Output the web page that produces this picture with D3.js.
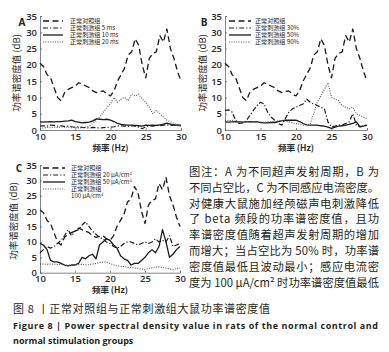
<!DOCTYPE html>
<html><head><meta charset="utf-8">
<script src="https://cdn.jsdelivr.net/npm/d3@7/dist/d3.min.js"></script>
<style>
html,body{margin:0;padding:0;background:#fff;}
svg{display:block;}
</style></head>
<body><svg id="c" width="389" height="352"></svg>
<script>
const freqs = [10,10.5,11,11.5,12,12.5,13,13.5,14,14.5,15,15.5,16,16.5,17,17.5,18,18.5,19,19.5,20,20.5,21,21.5,22,22.5,23,23.5,24,24.5,25,25.5,26,26.5,27,27.5,28,28.5,29,29.5,30];
const xTicks = [10,15,20,25,30];
const yTicks = [0,5,10,15,20,25,30,35];

const control = [20.5,19.5,17,16,13,10,9,11.5,12.5,13,13.5,14.5,14,13.5,13,12,11.5,11.8,12,11,10.5,12,15,17,19,23,24,28,26,20,16,22,23.5,24,29,27,31,25,22,18,15];

const a5ms  = [1.2,1.3,1.2,1.5,1.4,1.2,1.3,1.1,1.2,1.0,0.9,1.0,0.8,0.7,0.6,0.8,0.7,0.6,0.7,0.8,0.9,1.0,1.2,1.3,1.2,1.1,1.3,1.2,0.9,0.4,1.0,1.3,1.2,1.4,1.3,1.5,1.6,1.4,1.6,1.3,1.2];
const a10ms = [2.5,2.4,2.5,2.6,2.5,2.6,2.6,2.7,2.8,3.0,2.6,2.4,2.2,2.3,2.4,2.8,3.4,3.3,3.2,3.3,3.0,2.6,2.0,1.7,1.6,1.5,1.5,1.4,1.3,1.2,1.5,1.4,1.5,1.4,1.6,1.8,2.1,1.8,1.5,1.6,1.5];
const a20ms = [0.5,0.6,0.8,0.7,0.9,0.8,1.0,0.8,0.9,0.7,0.8,0.6,0.7,0.9,1.2,2.0,3.0,4.0,5.5,7.0,8.0,10.0,8.5,9.5,10.0,9.0,11.0,10.5,11.0,9.5,8.5,7.0,5.0,6.0,5.0,4.0,3.0,2.5,2.0,1.5,1.2];

const b30 = [6.0,6.2,5.5,3.0,2.0,2.2,2.8,4.5,6.0,7.5,8.5,8.0,5.5,4.0,3.0,2.0,1.5,3.5,5.5,6.5,7.0,7.5,8.0,9.5,8.5,8.0,7.5,7.0,6.5,2.5,1.0,1.2,1.5,1.5,2.0,2.5,5.0,1.5,1.0,1.2,1.5];
const b50 = [2.5,2.4,2.5,2.6,2.5,2.4,2.5,2.6,2.5,2.6,2.3,2.2,2.2,2.3,2.3,2.6,2.8,3.0,3.0,3.0,3.0,2.6,2.0,1.6,1.5,1.5,1.5,1.3,1.2,0.9,0.5,0.9,1.2,1.3,1.5,1.7,2.0,2.5,1.0,1.2,1.5];
const b90 = [3.0,2.8,3.0,2.6,2.5,2.4,2.6,2.5,2.4,2.5,2.3,2.4,2.5,2.5,2.6,2.8,3.0,2.7,2.5,2.2,2.0,1.8,1.5,1.6,2.0,5.0,8.5,10.5,12.5,14.5,10.0,9.5,9.0,7.5,7.0,6.5,7.0,5.0,4.5,4.0,3.5];

const c20  = [6.5,7.5,8.5,8.0,8.5,9.5,10.5,12.0,14.0,12.0,13.5,14.0,15.5,16.5,15.0,13.5,12.5,11.5,11.0,10.0,9.5,8.5,8.0,8.5,9.5,10.0,10.0,9.5,9.0,9.5,10.0,9.5,10.0,11.0,10.0,10.5,10.0,12.0,8.5,9.0,9.5];
const c50  = [9.5,9.0,7.5,4.0,3.5,3.5,3.0,2.5,2.2,2.5,2.5,3.0,5.0,4.5,5.5,6.0,4.5,9.0,10.0,11.0,10.5,9.0,8.0,5.5,4.5,4.0,2.5,3.0,3.0,4.0,5.0,6.5,7.5,6.5,8.5,14.0,10.0,5.0,6.0,7.5,8.5];
const c100 = [2.8,2.8,2.7,2.8,2.8,2.7,2.6,2.5,2.4,2.5,2.5,2.6,2.7,2.6,2.6,2.8,3.0,3.3,3.5,3.4,3.0,2.6,2.3,2.1,2.0,1.8,1.7,1.5,1.4,1.2,1.0,1.4,1.6,1.8,1.9,1.7,1.5,1.2,1.0,1.4,1.5];

const legendA = ["正常对照组","正常刺激组 5 ms","正常刺激组 10 ms","正常刺激组 20 ms"];
const legendB = ["正常对照组","正常刺激组 30%","正常刺激组 50%","正常刺激组 90%"];
const legendC = ["正常对照组","正常刺激组 20 μA/cm²","正常刺激组 50 μA/cm²","正常刺激组","100 μA/cm²"];

const noteLines = [
 "图注：A 为不同超声发射周期，B 为",
 "不同占空比，C 为不同感应电流密度。",
 "对健康大鼠施加经颅磁声电刺激降低",
 "了 beta 频段的功率谱密度值，且功",
 "率谱密度值随着超声发射周期的增加",
 "而增大；当占空比为 50% 时，功率谱",
 "密度值最低且波动最小；感应电流密",
 "度为 100 μA/cm² 时功率谱密度值最低"
];
const captionCN = "图 8 丨正常对照组与正常刺激组大鼠功率谱密度值";
const captionEN = ["Figure 8  |  Power spectral density value in rats of the normal control and","normal stimulation groups"];

const svg = d3.select("#c");
const CJK = "'Noto Sans CJK SC','Noto Sans',sans-serif";
const LAT = "'Open Sans','Noto Sans',sans-serif";

const styles = [
  {dash:"6,3.5", color:"#1a1a1a", width:1.3},
  {dash:"5,2,1.2,2", color:"#1a1a1a", width:1.2},
  {dash:null, color:"#1a1a1a", width:1.3},
  {dash:"1,1.4", color:"#555", width:1.1}
];

function panel(cfg){
  const x = d3.scaleLinear().domain([10,30]).range([cfg.x0,cfg.x1]);
  const y = d3.scaleLinear().domain([0,35]).range([cfg.y0,cfg.y1]);
  const g = svg.append("g");
  const ya = g.append("g").attr("transform",`translate(${cfg.x0},0)`)
    .call(d3.axisLeft(y).tickValues(yTicks).tickSize(-2).tickPadding(3));
  const xa = g.append("g").attr("transform",`translate(0,${cfg.y0})`)
    .call(d3.axisBottom(x).tickValues(xTicks).tickSize(-2).tickPadding(3));
  [ya,xa].forEach(a=>{
    a.select(".domain").attr("stroke","#666").attr("stroke-width",0.8);
    a.selectAll(".tick line").attr("stroke","#666").attr("stroke-width",0.8);
    a.selectAll("text").attr("font-family",LAT).attr("font-size",9.5).attr("font-weight",600).attr("fill","#2a2a2a");
  });
  const line = d3.line().x((d,i)=>x(freqs[i])).y(d=>y(d));
  cfg.series.forEach((s,i)=>{
    const st = styles[i];
    g.append("path").datum(s).attr("d",line).attr("fill","none")
      .attr("stroke",st.color).attr("stroke-width",st.width)
      .attr("stroke-dasharray",st.dash).attr("stroke-linejoin","round");
  });
  cfg.legend.forEach((t,i)=>{
    const ly = cfg.legY[i];
    if(i<4){
      const st = styles[i];
      g.append("line").attr("x1",cfg.legX).attr("x2",cfg.legX+cfg.legW).attr("y1",ly).attr("y2",ly)
        .attr("stroke",st.color).attr("stroke-width",st.width).attr("stroke-dasharray",st.dash);
    }
    g.append("text").attr("x",cfg.legTX).attr("y",ly+2.2).text(t)
      .attr("font-family",CJK).attr("font-size",6.1).attr("fill","#222");
  });
  g.append("text").attr("x",cfg.lx).attr("y",cfg.ly).text(cfg.letter)
    .attr("font-family",LAT).attr("font-size",10).attr("font-weight",700).attr("fill","#222").attr("text-anchor","middle");
  g.append("text").attr("transform",`translate(${cfg.ytx},${cfg.yty}) rotate(-90)`)
    .attr("text-anchor","middle").text("功率谱密度值 (dB)")
    .attr("font-family",CJK).attr("font-size",9.5).attr("fill","#2a2a2a");
  g.append("text").attr("x",(cfg.x0+cfg.x1)/2).attr("y",cfg.xty).attr("text-anchor","middle")
    .text("频率 (Hz)").attr("font-family",CJK).attr("font-size",8.5).attr("font-weight",700).attr("fill","#2a2a2a");
}

panel({letter:"A",x0:40,x1:181,y0:130,y1:16,series:[control,a5ms,a10ms,a20ms],legend:legendA,
  legX:43,legW:20,legTX:70,legY:[21,28,35,42],lx:22,ly:26,ytx:20,yty:73,xty:151});
panel({letter:"B",x0:225,x1:367,y0:130,y1:16,series:[control,b30,b50,b90],legend:legendB,
  legX:229,legW:22,legTX:255,legY:[21,28,35,42],lx:204,ly:26,ytx:206,yty:73,xty:151});
panel({letter:"C",x0:40,x1:180,y0:272.7,y1:165,series:[control,c20,c50,c100],legend:legendC,
  legX:43,legW:22,legTX:71,legY:[168,175,182,189,196],lx:19,ly:172,ytx:17,yty:221,xty:293});

const note = svg.append("g");
noteLines.forEach((t,i)=>{
  note.append("text").attr("x",189).attr("y",176+i*15.8).text(t)
    .attr("font-family",CJK).attr("font-size",11.3).attr("fill","#231f20")
    .attr("textLength",190).attr("lengthAdjust","spacing");
});
svg.append("text").attr("x",13).attr("y",313).text(captionCN)
  .attr("font-family",CJK).attr("font-size",11).attr("fill","#231f20")
  .attr("textLength",257).attr("lengthAdjust","spacing");
svg.append("text").attr("x",13).attr("y",329).text(captionEN[0])
  .attr("font-family",LAT).attr("font-size",9).attr("font-weight",700).attr("fill","#231f20")
  .attr("textLength",365).attr("lengthAdjust","spacing");
svg.append("text").attr("x",13).attr("y",344).text(captionEN[1])
  .attr("font-family",LAT).attr("font-size",9).attr("font-weight",700).attr("fill","#231f20");
</script></body></html>
